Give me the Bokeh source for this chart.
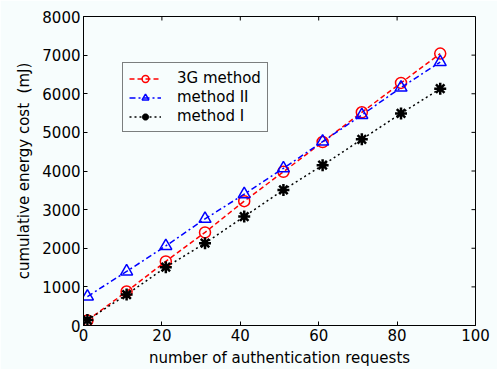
from bokeh.plotting import figure
from bokeh.models import FixedTicker, Range1d, Legend
from bokeh.embed import file_html
from bokeh.resources import INLINE

requests = [1, 11, 21, 31, 41, 51, 61, 71, 81, 91]
cost_3g = [130, 880, 1660, 2410, 3220, 3980, 4750, 5520, 6280, 7040]
cost_m2 = [750, 1400, 2060, 2760, 3400, 4070, 4760, 5450, 6160, 6820]
cost_m1 = [140, 800, 1510, 2130, 2820, 3510, 4150, 4820, 5490, 6130]
x_ticks = [0, 20, 40, 60, 80, 100]
y_ticks = [0, 1000, 2000, 3000, 4000, 5000, 6000, 7000, 8000]

BG = "#f7fdfd"
FONT = "DejaVu Sans"
X0, X1, Y0, Y1 = 0, 100, 0, 8000

p = figure(width=497, height=369, output_backend="svg", toolbar_location=None,
           x_range=Range1d(X0, X1), y_range=Range1d(Y0, Y1),
           min_border_left=83, min_border_right=22, min_border_top=16, min_border_bottom=43)
p.background_fill_color = BG
p.border_fill_color = BG
p.outline_line_color = "black"
p.outline_line_width = 1
p.xgrid.visible = False
p.ygrid.visible = False

for ax, ticks in ((p.xaxis[0], x_ticks), (p.yaxis[0], y_ticks)):
    ax.ticker = FixedTicker(ticks=ticks)
    ax.major_tick_in = 4
    ax.major_tick_out = 0
    ax.minor_tick_in = 0
    ax.minor_tick_out = 0
    ax.axis_line_color = "black"
    ax.major_tick_line_color = "black"
    ax.major_label_text_font = FONT
    ax.major_label_text_font_size = "15px"
    ax.major_label_text_color = "black"
    ax.major_label_standoff = 3
    ax.axis_label_text_font = FONT
    ax.axis_label_text_font_size = "15px"
    ax.axis_label_text_font_style = "normal"
    ax.axis_label_text_color = "black"
p.xaxis.axis_label = "number of authentication requests"
p.yaxis.axis_label = "cumulative energy cost\u00a0 (mJ)"
p.xaxis.axis_label_standoff = 5
p.yaxis.axis_label_standoff = 6

# inward ticks on the top and right edges (box style)
tick_dx = (X1 - X0) * 4 / 392
tick_dy = (Y1 - Y0) * 4 / 310
p.segment(x0=x_ticks, x1=x_ticks, y0=[Y1] * len(x_ticks), y1=[Y1 - tick_dy] * len(x_ticks),
          line_color="black", line_width=1)
p.segment(x0=[X1] * len(y_ticks), x1=[X1 - tick_dx] * len(y_ticks), y0=y_ticks, y1=y_ticks,
          line_color="black", line_width=1)

l1 = p.line(requests, cost_3g, line_color="red", line_width=1.5, line_dash="5 3")
s1 = p.scatter(requests, cost_3g, marker="circle", size=11, fill_color=None,
               line_color="red", line_width=1.5)
l2 = p.line(requests, cost_m2, line_color="blue", line_width=1.5, line_dash="6 3 2 3")
s2 = p.scatter(requests, cost_m2, marker="triangle", size=12, fill_color=None,
               line_color="blue", line_width=1.5)
l3 = p.line(requests, cost_m1, line_color="black", line_width=1.5, line_dash="2 3")
s3 = p.scatter(requests, cost_m1, marker="asterisk", size=12, line_color="black",
               line_width=2.5)

legend = Legend(items=[("3G method", [l1, s1]), ("method II", [l2, s2]), ("method I", [l3, s3])],
                location=(39, 193))
legend.label_text_font = FONT
legend.label_text_font_size = "15px"
legend.label_text_color = "black"
legend.glyph_width = 32
legend.glyph_height = 17
legend.label_height = 17
legend.spacing = 1
legend.padding = 6
legend.margin = 0
legend.label_standoff = 16
legend.border_line_color = "black"
legend.border_line_width = 1
legend.background_fill_color = BG
legend.background_fill_alpha = 1
p.add_layout(legend, "center")

open("out.html", "w").write(file_html(p, INLINE))
